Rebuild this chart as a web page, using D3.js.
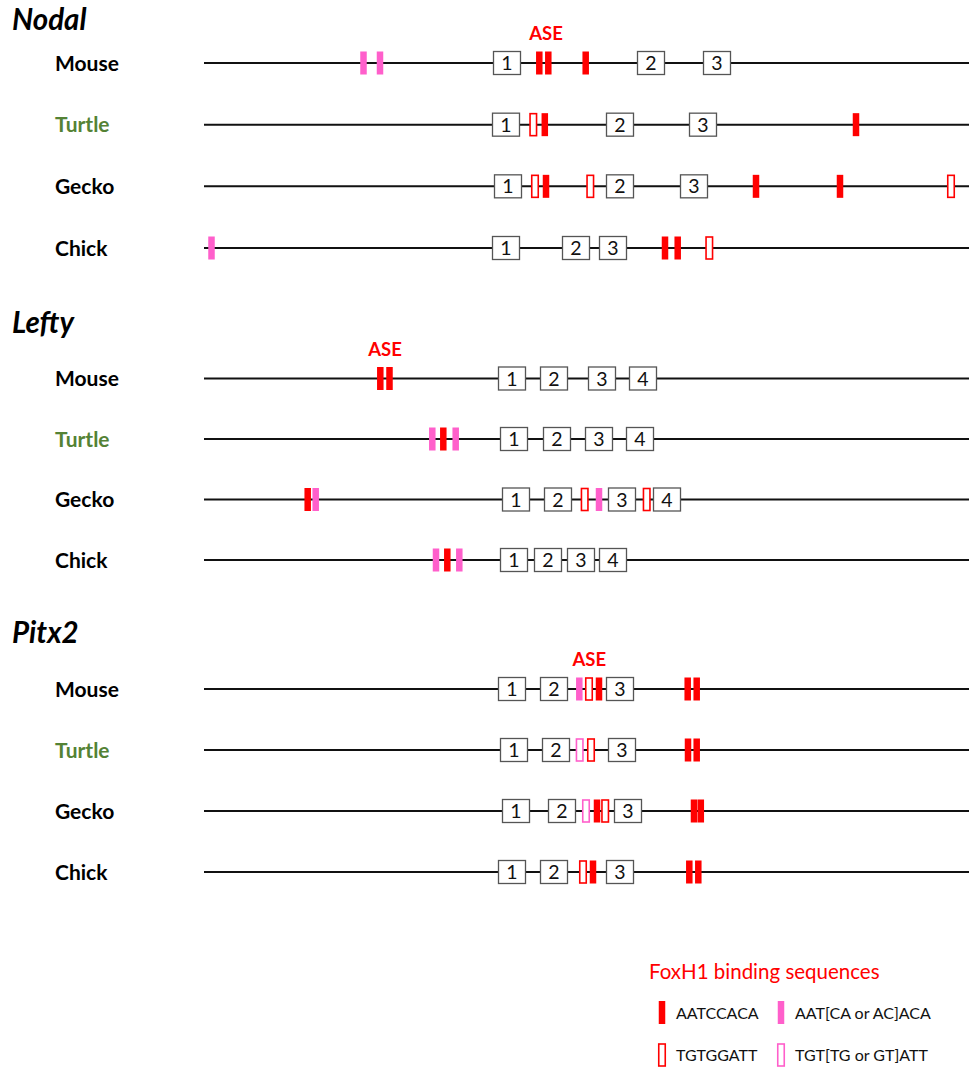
<!DOCTYPE html>
<html lang="en">
<head>
    <style>
        body { margin: 0; background: #fff; }
        svg { display: block; }
        text { font-family: Lato, "Open Sans", sans-serif; }
    </style>
</head>
<body>
    <svg width="969" height="1068"></svg>
    <script src="https://cdn.jsdelivr.net/npm/d3@7"></script>
    <script>
        /************************************************************************************
        * Data (positions along the locus, 0 = left end of the line)
        ************************************************************************************/
        const genes = ["Nodal", "Lefty", "Pitx2"];
        const species = ["Mouse", "Turtle", "Gecko", "Chick"];

        // Exon centres, one list per species
        const nodalExons = [[303, 447, 513], [302, 416, 499], [304, 416, 490], [302, 372, 409]];
        const leftyExons = [[308, 350, 398, 439], [310, 353, 395, 436], [312, 354, 418, 463], [310, 344, 377, 409]];
        const pitx2Exons = [[308, 350, 416], [310, 352, 418], [312, 358, 424], [308, 350, 416]];

        // FoxH1 sites: [position, type]  A = AATCCACA, B = AAT[CA/AC]ACA, C = TGTGGATT, D = TGT[TG/GT]ATT
        const nodalSites = [
            [[159.5, "B"], [176, "B"], [335.3, "A"], [344.3, "A"], [381.7, "A"]],
            [[329.3, "C"], [340.8, "A"], [652, "A"]],
            [[331, "C"], [342, "A"], [386.3, "C"], [552, "A"], [636, "A"], [747, "C"]],
            [[7.5, "B"], [461, "A"], [473.7, "A"], [505.3, "C"]]
        ];
        const leftySites = [
            [[176.3, "A"], [185.5, "A"]],
            [[228.3, "B"], [239.3, "A"], [251.7, "B"]],
            [[103.7, "A"], [111.7, "B"], [380.7, "C"], [395, "B"], [442.7, "C"]],
            [[232, "B"], [243.3, "A"], [255.3, "B"]]
        ];
        const pitx2Sites = [
            [[375.3, "B"], [385, "C"], [395, "A"], [483.7, "A"], [492.7, "A"]],
            [[375.7, "D"], [387, "C"], [484, "A"], [492.7, "A"]],
            [[382, "D"], [393, "A"], [401.2, "C"], [490, "A"], [496.8, "A"]],
            [[379, "C"], [389, "A"], [485.3, "A"], [494.3, "A"]]
        ];

        const aseX = [342, 181, 385.3];

        const legendTitle = "FoxH1 binding sequences";
        const legendTypes = ["A", "B", "C", "D"];
        const legendLabels = ["AATCCACA", "AAT[CA or AC]ACA", "TGTGGATT", "TGT[TG or GT]ATT"];

        const exonData = [nodalExons, leftyExons, pitx2Exons];
        const siteData = [nodalSites, leftySites, pitx2Sites];

        /************************************************************************************
        * Layout
        ************************************************************************************/
        const svg = d3.select("svg");
        const red = "#ff0000", pink = "#ff5fcb", green = "#548235";

        const x = d3.scaleLinear().domain([0, 765]).range([204, 969]);
        const geneTop = [63, 378.5, 689];
        const geneSpan = [185, 181.5, 183];
        const titleY = [30, 333, 643];

        const boxW = 27, boxH = 23, markW = 6.5, markH = 23;

        const typeStyle = {
            A: { fill: red, stroke: "none" },
            B: { fill: pink, stroke: "none" },
            C: { fill: "#fff", stroke: red },
            D: { fill: "#fff", stroke: pink }
        };

        function drawMark(g, cx, cy, type) {
            const s = typeStyle[type];
            const open = s.stroke !== "none";
            g.append("rect")
                .attr("x", cx - markW / 2)
                .attr("y", cy - markH / 2 + (open ? 0.5 : 0))
                .attr("width", markW)
                .attr("height", markH - (open ? 1 : 0))
                .attr("fill", s.fill)
                .attr("stroke", s.stroke)
                .attr("stroke-width", open ? 1.6 : 0);
        }

        /************************************************************************************
        * Genes
        ************************************************************************************/
        genes.forEach((gene, gi) => {
            const g = svg.append("g");
            const rowY = d3.scalePoint().domain(species).range([0, geneSpan[gi]]);

            g.append("text")
                .attr("x", 12).attr("y", titleY[gi])
                .attr("font-size", 29.5).attr("font-weight", "bold").attr("font-style", "italic")
                .attr("fill", "#000")
                .text(gene);

            g.append("text")
                .attr("x", x(aseX[gi])).attr("y", geneTop[gi] - 23)
                .attr("text-anchor", "middle")
                .attr("font-size", 18.5).attr("font-weight", "bold")
                .attr("fill", red)
                .text("ASE");

            species.forEach((sp, si) => {
                const cy = geneTop[gi] + rowY(sp);
                const row = g.append("g");

                row.append("text")
                    .attr("x", 55).attr("y", cy + 7.5)
                    .attr("font-size", 21).attr("font-weight", "bold")
                    .attr("fill", sp === "Turtle" ? green : "#000")
                    .text(sp);

                row.append("line")
                    .attr("x1", x(0)).attr("x2", x(765))
                    .attr("y1", cy).attr("y2", cy)
                    .attr("stroke", "#111").attr("stroke-width", 2);

                // Exons
                exonData[gi][si].forEach((pos, ei) => {
                    row.append("rect")
                        .attr("x", x(pos) - boxW / 2).attr("y", cy - boxH / 2)
                        .attr("width", boxW).attr("height", boxH)
                        .attr("fill", "#fff").attr("stroke", "#555").attr("stroke-width", 1.3);
                    row.append("text")
                        .attr("x", x(pos)).attr("y", cy + 7)
                        .attr("text-anchor", "middle")
                        .attr("font-size", 19.5).attr("fill", "#111")
                        .text(ei + 1);
                });

                // FoxH1 sites
                siteData[gi][si].forEach(d => drawMark(row, x(d[0]), cy, d[1]));
            });
        });

        /************************************************************************************
        * Legend
        ************************************************************************************/
        const legend = svg.append("g").attr("transform", "translate(649, 0)");
        legend.append("text")
            .attr("x", 0).attr("y", 979)
            .attr("font-size", 20.5).attr("fill", red)
            .text(legendTitle);

        legendTypes.forEach((t, i) => {
            const lx = (i % 2) * 119 + 13;
            const ly = 1012.5 + Math.floor(i / 2) * 42.5;
            drawMark(legend, lx, ly, t);
            legend.append("text")
                .attr("x", lx + 14).attr("y", ly + 6)
                .attr("font-size", 16).attr("fill", "#111")
                .text(legendLabels[i]);
        });
    </script>
</body>
</html>
